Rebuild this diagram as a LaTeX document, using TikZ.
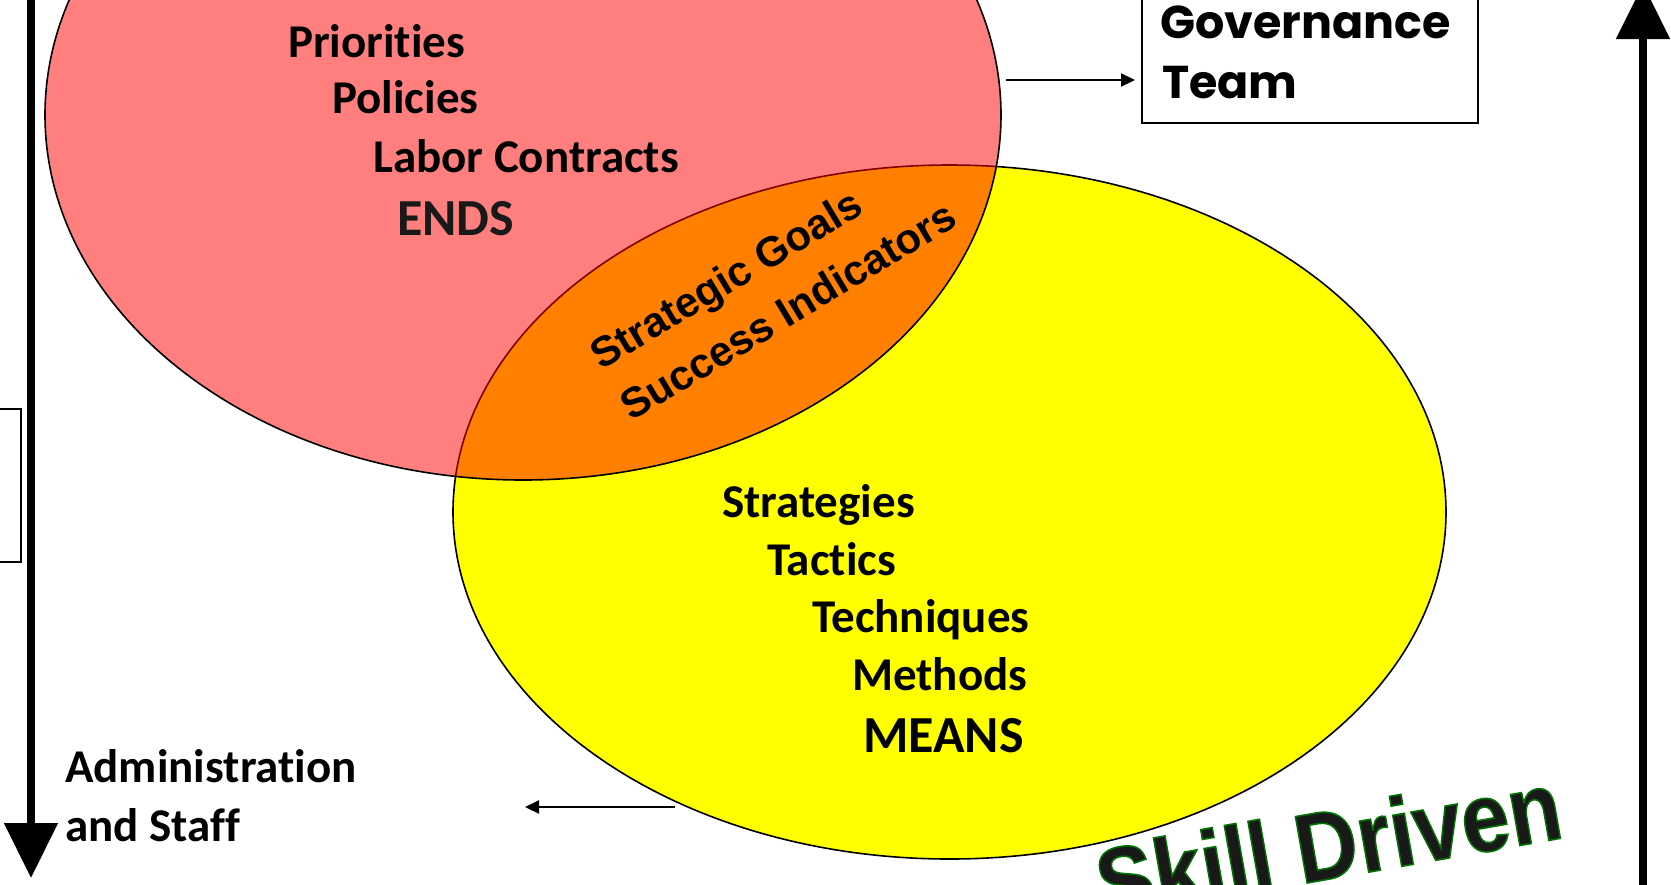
\documentclass[tikz,border=0pt]{standalone}
\usepackage{fontspec}
\setmainfont{Carlito}[Ligatures={NoCommon,NoContextual}]
\newfontfamily\arialfont{Liberation Sans}
\newfontfamily\gothicfont{Poppins}
\usetikzlibrary{arrows.meta,shapes.geometric,positioning}
\definecolor{meansyellow}{RGB}{255,255,0}
\definecolor{endsred}{RGB}{255,0,0}
% green rim round the letters
\newcommand\greenrim[1]{\special{pdf:literal direct 2 Tr 1.6 w 0 0.45 0 RG}#1\special{pdf:literal direct 0 Tr}}

\begin{document}
\begin{tikzpicture}[x=1pt,y=-1pt,
    bigarrow/.style={line width=8.5pt,-{Triangle[length=55pt,width=52pt]}},
    thinarrow/.style={line width=2.2pt,-{Triangle[length=14pt,width=13pt]}},
    oval/.style={ellipse,draw,line width=1.6pt,inner sep=0pt},
    item/.style={anchor=base west,inner sep=0pt,font=\bfseries\fontsize{47}{57}\selectfont},
    bigword/.style={anchor=base west,inner sep=0pt,font=\bfseries\fontsize{52}{62}\selectfont},
    slant/.style={anchor=base west,inner sep=0pt,rotate=31,font=\arialfont\bfseries\fontsize{42}{50}\selectfont},
    govtext/.style={anchor=base west,inner sep=0pt,font=\gothicfont\bfseries\fontsize{46}{60}\selectfont}]

    \useasboundingbox (0,0) rectangle (1671,884);
    \clip (0,0) rectangle (1671,884);

    % the two sets
    \node[oval,fill=meansyellow,minimum width=993pt,minimum height=694pt] (means) at (949.5,512) {};
    \node[oval,fill=endsred,fill opacity=0.5,minimum width=956pt,minimum height=730pt] (ends) at (523,115) {};

    \node[item] (prio) at (288,57) {Priorities};
    \node[item] (poli) at (332,113) {Policies};
    \node[item] (labor) at (373,172) {Labor Contracts};
    \node[bigword,text=black!90] (endsword) at (397,235) {ENDS};

    \node[slant] (goals) at (601,371) {Strategic Goals};
    \node[slant] (indic) at (631,422) {Success Indicators};

    \node[item] (strat) at (722,517) {Strategies};
    \node[item] (tact) at (767,575) {Tactics};
    \node[item] (tech) at (812,632) {Techniques};
    \node[item] (meth) at (852,690) {Methods};
    \node[bigword] (meansword) at (863,752) {MEANS};

    \node[item] (admin) at (65,782) {Administration};
    \node[item] (staff) at (65,841) {and Staff};

    % governance box
    \node[draw,line width=2pt,minimum width=336pt,minimum height=180pt,anchor=south west] (govbox) at (1141,124) {};
    \node[govtext] (gov) at (1160,38) {Governance};
    \node[govtext] (team) at (1162,98) {Team};

    \node[draw,line width=1.6pt,minimum width=60pt,minimum height=153pt,anchor=east] (sidebox) at (22,485.5) {};

    % connectors
    \coordinate (govfrom) at (1006,80);
    \coordinate (meansfrom) at (675,807);
    \coordinate (meansto) at (525,807);
    \draw[thinarrow,shorten >=6pt] (govfrom) -- (govfrom -| govbox.west);
    \draw[thinarrow] (meansfrom) -- (meansto);

    \coordinate (downtop) at (31,-10);
    \coordinate (downtip) at (31,878);
    \coordinate (upfoot) at (1643,900);
    \coordinate (uptip) at (1643,-16);
    \draw[bigarrow] (downtop) -- (downtip);
    \draw[bigarrow] (upfoot) -- (uptip);

    \node[anchor=base west,inner sep=0pt,rotate=10,xscale=0.88,text=black!90,
          font=\arialfont\bfseries\fontsize{98}{100}\selectfont] (skill) at (1103,919)
          {\greenrim{Skill Driven}};
\end{tikzpicture}
\end{document}
